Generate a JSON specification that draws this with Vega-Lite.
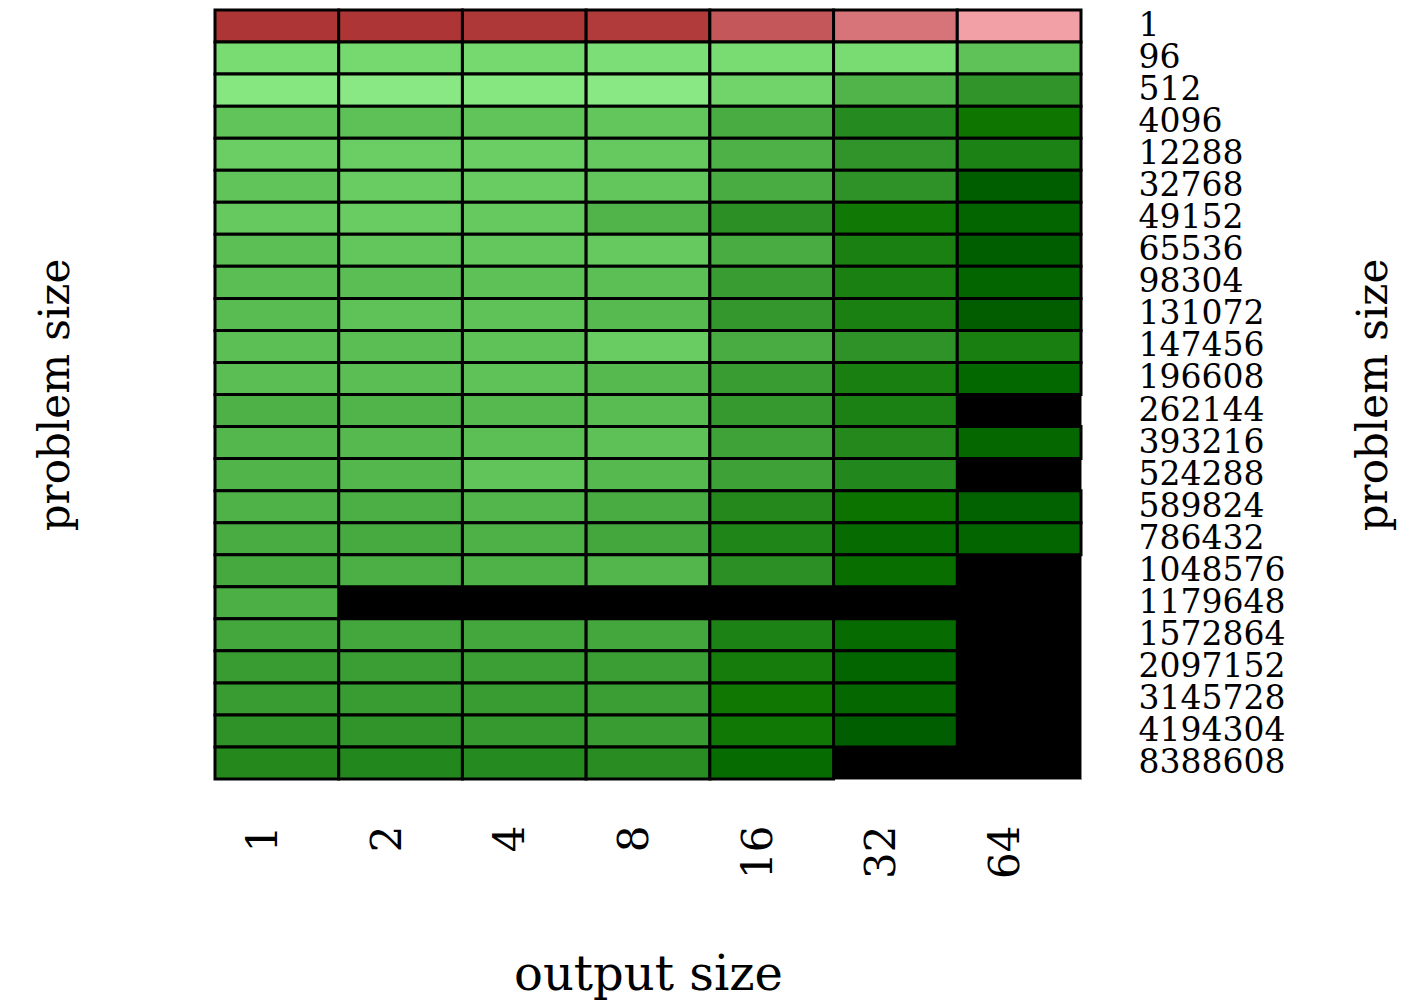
{
  "$schema": "https://vega.github.io/schema/vega-lite/v6.json",
  "autosize": "none",
  "padding": {"left": 215, "top": 10, "right": 327, "bottom": 224},
  "width": 866,
  "height": 769,
  "background": "white",
  "view": {"fill": "black", "stroke": "#888888", "strokeWidth": 1},
  "config": {"font": "DejaVu Serif"},
  "data": {"values": [
    {"problem": "1", "output": "1", "score": -1.0},
    {"problem": "1", "output": "2", "score": -1.0},
    {"problem": "1", "output": "4", "score": -0.98},
    {"problem": "1", "output": "8", "score": -0.95},
    {"problem": "1", "output": "16", "score": -0.7},
    {"problem": "1", "output": "32", "score": -0.45},
    {"problem": "1", "output": "64", "score": -0.08},
    {"problem": "96", "output": "1", "score": 0.10},
    {"problem": "96", "output": "2", "score": 0.12},
    {"problem": "96", "output": "4", "score": 0.12},
    {"problem": "96", "output": "8", "score": 0.08},
    {"problem": "96", "output": "16", "score": 0.10},
    {"problem": "96", "output": "32", "score": 0.10},
    {"problem": "96", "output": "64", "score": 0.26},
    {"problem": "512", "output": "1", "score": 0.02},
    {"problem": "512", "output": "2", "score": 0.0},
    {"problem": "512", "output": "4", "score": 0.02},
    {"problem": "512", "output": "8", "score": 0.0},
    {"problem": "512", "output": "16", "score": 0.15},
    {"problem": "512", "output": "32", "score": 0.35},
    {"problem": "512", "output": "64", "score": 0.55},
    {"problem": "4096", "output": "1", "score": 0.25},
    {"problem": "4096", "output": "2", "score": 0.27},
    {"problem": "4096", "output": "4", "score": 0.25},
    {"problem": "4096", "output": "8", "score": 0.24},
    {"problem": "4096", "output": "16", "score": 0.40},
    {"problem": "4096", "output": "32", "score": 0.62},
    {"problem": "4096", "output": "64", "score": 0.80},
    {"problem": "12288", "output": "1", "score": 0.19},
    {"problem": "12288", "output": "2", "score": 0.19},
    {"problem": "12288", "output": "4", "score": 0.19},
    {"problem": "12288", "output": "8", "score": 0.22},
    {"problem": "12288", "output": "16", "score": 0.37},
    {"problem": "12288", "output": "32", "score": 0.55},
    {"problem": "12288", "output": "64", "score": 0.68},
    {"problem": "32768", "output": "1", "score": 0.25},
    {"problem": "32768", "output": "2", "score": 0.20},
    {"problem": "32768", "output": "4", "score": 0.20},
    {"problem": "32768", "output": "8", "score": 0.24},
    {"problem": "32768", "output": "16", "score": 0.40},
    {"problem": "32768", "output": "32", "score": 0.56},
    {"problem": "32768", "output": "64", "score": 0.97},
    {"problem": "49152", "output": "1", "score": 0.22},
    {"problem": "49152", "output": "2", "score": 0.20},
    {"problem": "49152", "output": "4", "score": 0.22},
    {"problem": "49152", "output": "8", "score": 0.35},
    {"problem": "49152", "output": "16", "score": 0.58},
    {"problem": "49152", "output": "32", "score": 0.78},
    {"problem": "49152", "output": "64", "score": 0.92},
    {"problem": "65536", "output": "1", "score": 0.28},
    {"problem": "65536", "output": "2", "score": 0.24},
    {"problem": "65536", "output": "4", "score": 0.23},
    {"problem": "65536", "output": "8", "score": 0.22},
    {"problem": "65536", "output": "16", "score": 0.40},
    {"problem": "65536", "output": "32", "score": 0.70},
    {"problem": "65536", "output": "64", "score": 0.97},
    {"problem": "98304", "output": "1", "score": 0.29},
    {"problem": "98304", "output": "2", "score": 0.29},
    {"problem": "98304", "output": "4", "score": 0.27},
    {"problem": "98304", "output": "8", "score": 0.28},
    {"problem": "98304", "output": "16", "score": 0.50},
    {"problem": "98304", "output": "32", "score": 0.70},
    {"problem": "98304", "output": "64", "score": 0.92},
    {"problem": "131072", "output": "1", "score": 0.30},
    {"problem": "131072", "output": "2", "score": 0.26},
    {"problem": "131072", "output": "4", "score": 0.26},
    {"problem": "131072", "output": "8", "score": 0.31},
    {"problem": "131072", "output": "16", "score": 0.53},
    {"problem": "131072", "output": "32", "score": 0.70},
    {"problem": "131072", "output": "64", "score": 0.98},
    {"problem": "147456", "output": "1", "score": 0.28},
    {"problem": "147456", "output": "2", "score": 0.29},
    {"problem": "147456", "output": "4", "score": 0.26},
    {"problem": "147456", "output": "8", "score": 0.20},
    {"problem": "147456", "output": "16", "score": 0.40},
    {"problem": "147456", "output": "32", "score": 0.56},
    {"problem": "147456", "output": "64", "score": 0.71},
    {"problem": "196608", "output": "1", "score": 0.29},
    {"problem": "196608", "output": "2", "score": 0.29},
    {"problem": "196608", "output": "4", "score": 0.26},
    {"problem": "196608", "output": "8", "score": 0.32},
    {"problem": "196608", "output": "16", "score": 0.50},
    {"problem": "196608", "output": "32", "score": 0.71},
    {"problem": "196608", "output": "64", "score": 0.90},
    {"problem": "262144", "output": "1", "score": 0.37},
    {"problem": "262144", "output": "2", "score": 0.35},
    {"problem": "262144", "output": "4", "score": 0.32},
    {"problem": "262144", "output": "8", "score": 0.30},
    {"problem": "262144", "output": "16", "score": 0.52},
    {"problem": "262144", "output": "32", "score": 0.69},
    {"problem": "393216", "output": "1", "score": 0.33},
    {"problem": "393216", "output": "2", "score": 0.32},
    {"problem": "393216", "output": "4", "score": 0.28},
    {"problem": "393216", "output": "8", "score": 0.27},
    {"problem": "393216", "output": "16", "score": 0.46},
    {"problem": "393216", "output": "32", "score": 0.63},
    {"problem": "393216", "output": "64", "score": 0.91},
    {"problem": "524288", "output": "1", "score": 0.35},
    {"problem": "524288", "output": "2", "score": 0.33},
    {"problem": "524288", "output": "4", "score": 0.25},
    {"problem": "524288", "output": "8", "score": 0.32},
    {"problem": "524288", "output": "16", "score": 0.47},
    {"problem": "524288", "output": "32", "score": 0.64},
    {"problem": "589824", "output": "1", "score": 0.36},
    {"problem": "589824", "output": "2", "score": 0.38},
    {"problem": "589824", "output": "4", "score": 0.34},
    {"problem": "589824", "output": "8", "score": 0.40},
    {"problem": "589824", "output": "16", "score": 0.63},
    {"problem": "589824", "output": "32", "score": 0.82},
    {"problem": "589824", "output": "64", "score": 0.95},
    {"problem": "786432", "output": "1", "score": 0.40},
    {"problem": "786432", "output": "2", "score": 0.41},
    {"problem": "786432", "output": "4", "score": 0.37},
    {"problem": "786432", "output": "8", "score": 0.43},
    {"problem": "786432", "output": "16", "score": 0.66},
    {"problem": "786432", "output": "32", "score": 0.88},
    {"problem": "786432", "output": "64", "score": 0.92},
    {"problem": "1048576", "output": "1", "score": 0.42},
    {"problem": "1048576", "output": "2", "score": 0.38},
    {"problem": "1048576", "output": "4", "score": 0.36},
    {"problem": "1048576", "output": "8", "score": 0.34},
    {"problem": "1048576", "output": "16", "score": 0.58},
    {"problem": "1048576", "output": "32", "score": 0.86},
    {"problem": "1179648", "output": "1", "score": 0.38},
    {"problem": "1572864", "output": "1", "score": 0.43},
    {"problem": "1572864", "output": "2", "score": 0.43},
    {"problem": "1572864", "output": "4", "score": 0.43},
    {"problem": "1572864", "output": "8", "score": 0.43},
    {"problem": "1572864", "output": "16", "score": 0.68},
    {"problem": "1572864", "output": "32", "score": 0.88},
    {"problem": "2097152", "output": "1", "score": 0.50},
    {"problem": "2097152", "output": "2", "score": 0.49},
    {"problem": "2097152", "output": "4", "score": 0.48},
    {"problem": "2097152", "output": "8", "score": 0.49},
    {"problem": "2097152", "output": "16", "score": 0.73},
    {"problem": "2097152", "output": "32", "score": 0.92},
    {"problem": "3145728", "output": "1", "score": 0.50},
    {"problem": "3145728", "output": "2", "score": 0.50},
    {"problem": "3145728", "output": "4", "score": 0.50},
    {"problem": "3145728", "output": "8", "score": 0.49},
    {"problem": "3145728", "output": "16", "score": 0.79},
    {"problem": "3145728", "output": "32", "score": 0.91},
    {"problem": "4194304", "output": "1", "score": 0.56},
    {"problem": "4194304", "output": "2", "score": 0.55},
    {"problem": "4194304", "output": "4", "score": 0.52},
    {"problem": "4194304", "output": "8", "score": 0.50},
    {"problem": "4194304", "output": "16", "score": 0.78},
    {"problem": "4194304", "output": "32", "score": 0.97},
    {"problem": "8388608", "output": "1", "score": 0.63},
    {"problem": "8388608", "output": "2", "score": 0.64},
    {"problem": "8388608", "output": "4", "score": 0.62},
    {"problem": "8388608", "output": "8", "score": 0.60},
    {"problem": "8388608", "output": "16", "score": 0.88}
  ]},
  "encoding": {
    "x": {
      "field": "output", "type": "ordinal",
      "sort": ["1", "2", "4", "8", "16", "32", "64"],
      "scale": {"paddingInner": 0, "paddingOuter": 0},
      "axis": {
        "title": "output size", "labelAngle": -90, "labelBaseline": "alphabetic",
        "labelFont": "DejaVu Serif", "labelFontSize": 42, "labelColor": "black", "labelPadding": 46,
        "titleFont": "DejaVu Serif", "titleFontSize": 48, "titleFontWeight": "normal", "titleColor": "black", "titlePadding": 73,
        "domain": false, "ticks": false
      }
    },
    "y": {
      "field": "problem", "type": "ordinal",
      "sort": ["1", "96", "512", "4096", "12288", "32768", "49152", "65536", "98304", "131072", "147456", "196608", "262144", "393216", "524288", "589824", "786432", "1048576", "1179648", "1572864", "2097152", "3145728", "4194304", "8388608"],
      "scale": {"paddingInner": 0, "paddingOuter": 0}
    },
    "color": {
      "field": "score", "type": "quantitative", "legend": null,
      "scale": {
        "type": "linear", "interpolate": "rgb",
        "domain": [-1, -0.05, 0, 0.1, 0.2, 0.3, 0.4, 0.5, 0.6, 0.7, 0.8, 0.9, 1],
        "range": ["#ad3535", "#f4a2aa", "#8ae884", "#78dc72", "#68cc62", "#58bc52", "#48ac42", "#389c32", "#288c22", "#1a8012", "#0e7600", "#046800", "#005a00"]
      }
    }
  },
  "layer": [
    {
      "mark": {"type": "rect", "stroke": "black", "strokeWidth": 3},
      "encoding": {
        "y": {
          "field": "problem", "type": "ordinal",
          "sort": ["1", "96", "512", "4096", "12288", "32768", "49152", "65536", "98304", "131072", "147456", "196608", "262144", "393216", "524288", "589824", "786432", "1048576", "1179648", "1572864", "2097152", "3145728", "4194304", "8388608"],
          "axis": {
            "orient": "left", "title": "problem size", "labels": false, "ticks": false, "domain": false,
            "titleFont": "DejaVu Serif", "titleFontSize": 42, "titleFontWeight": "normal", "titleColor": "black", "titlePadding": 138
          }
        }
      }
    },
    {
      "mark": {"type": "rect", "opacity": 0},
      "encoding": {
        "y": {
          "field": "problem", "type": "ordinal",
          "sort": ["1", "96", "512", "4096", "12288", "32768", "49152", "65536", "98304", "131072", "147456", "196608", "262144", "393216", "524288", "589824", "786432", "1048576", "1179648", "1572864", "2097152", "3145728", "4194304", "8388608"],
          "axis": {
            "orient": "right", "title": "problem size", "ticks": false, "domain": false,
            "labelFont": "DejaVu Serif", "labelFontSize": 33, "labelColor": "black", "labelPadding": 57, "labelBaseline": "middle",
            "titleFont": "DejaVu Serif", "titleFontSize": 42, "titleFontWeight": "normal", "titleColor": "black", "titleAngle": 270, "titlePadding": 114
          }
        }
      }
    }
  ],
  "resolve": {"axis": {"y": "independent"}}
}
